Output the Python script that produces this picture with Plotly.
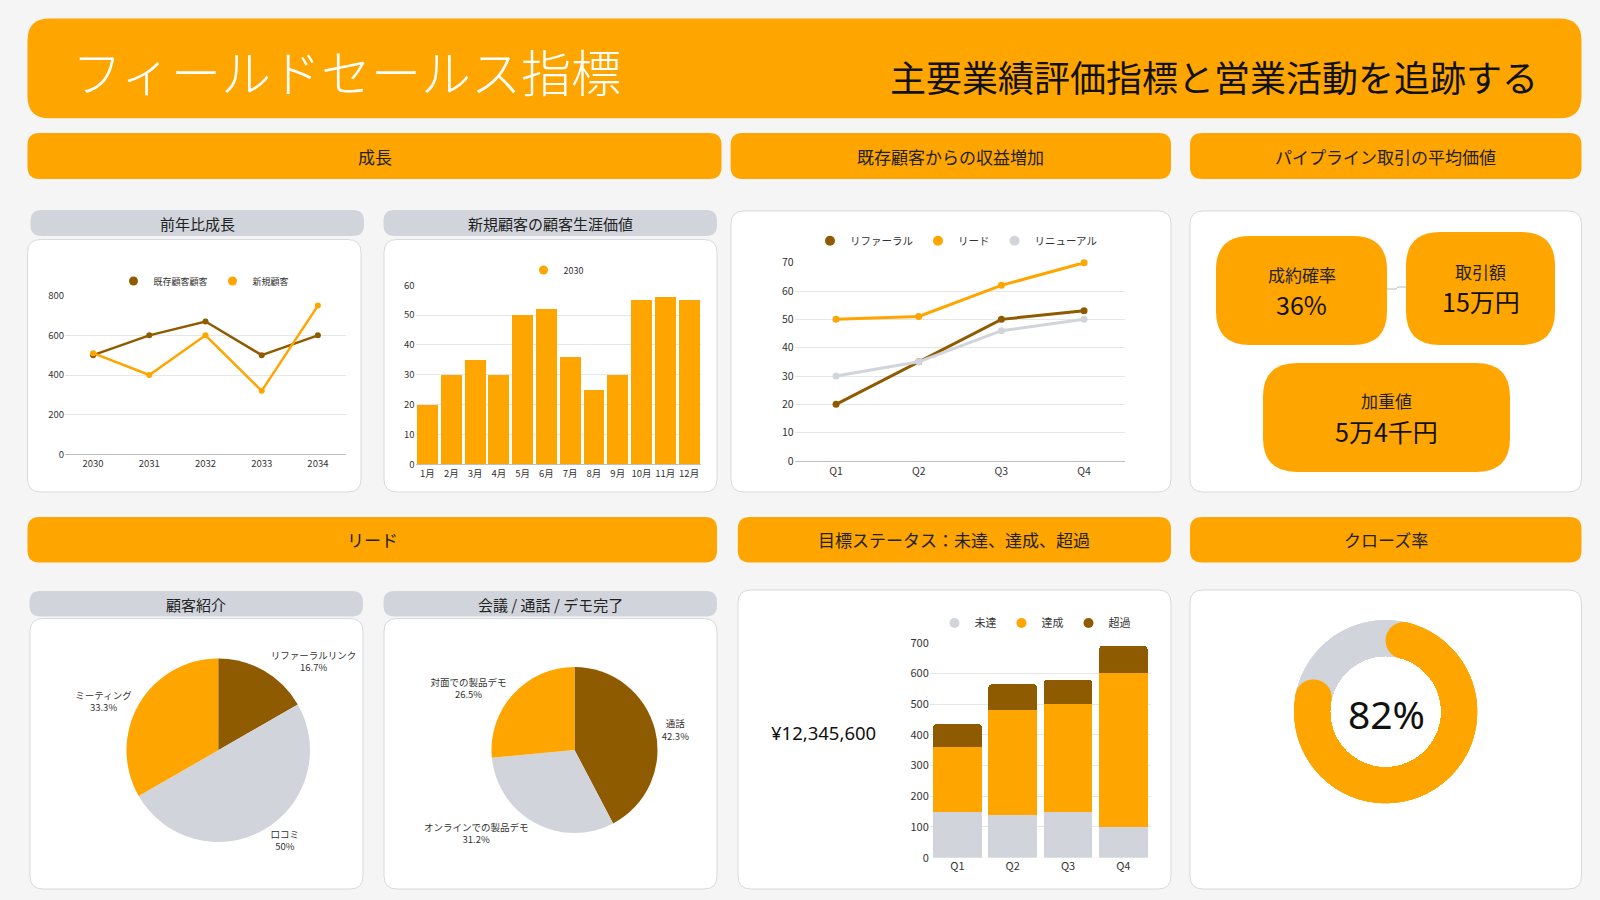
import math
import plotly.graph_objects as go

W, H = 1600, 900

# ---------------- data ----------------
years = ["2030", "2031", "2032", "2033", "2034"]
existing_customers = [500, 600, 670, 500, 600]
new_customers = [510, 400, 600, 320, 750]

months = ["1月", "2月", "3月", "4月", "5月", "6月", "7月", "8月", "9月", "10月", "11月", "12月"]
clv_2030 = [20, 30, 35, 30, 50, 52, 36, 25, 30, 55, 56, 55]

quarters = ["Q1", "Q2", "Q3", "Q4"]
referral = [20, 35, 50, 53]
lead = [50, 51, 62, 70]
renewal = [30, 35, 46, 50]

ref_labels = ["リファーラルリンク", "口コミ", "ミーティング"]
ref_values = [16.7, 50, 33.3]

act_labels = ["通話", "オンラインでの製品デモ", "対面での製品デモ"]
act_values = [42.3, 31.2, 26.5]

target_miss = [150, 140, 150, 100]
target_met = [210, 340, 350, 500]
target_over = [75, 85, 80, 90]

close_rate = 82

kpi_labels = ["成約確率", "取引額", "加重値"]
kpi_values = ["36%", "15万円", "5万4千円"]
revenue_total = "¥12,345,600"

# ---------------- style ----------------
ORANGE = "#FFA500"
BROWN = "#8F5B00"
GRAY = "#D1D5DB"
BG = "#F5F5F5"
BORDER = "#D6D9DF"
GRID = "#E6E6E6"
TXT = "#333333"
FONT = "Noto Sans CJK JP"


def px(x):
    return x / W


def py(y):
    return 1 - y / H


def rrect(x0, y0, x1, y1, r, fill, line=None):
    rx, ry = r / W, r / H
    X0, X1 = px(x0), px(x1)
    T, B = py(y0), py(y1)
    path = (f"M{X0+rx},{T} L{X1-rx},{T} Q{X1},{T} {X1},{T-ry} "
            f"L{X1},{B+ry} Q{X1},{B} {X1-rx},{B} L{X0+rx},{B} Q{X0},{B} {X0},{B+ry} "
            f"L{X0},{T-ry} Q{X0},{T} {X0+rx},{T} Z")
    return dict(type="path", path=path, xref="paper", yref="paper", layer="below",
                fillcolor=fill,
                line=dict(color=line if line else fill, width=1 if line else 0))


def text(x, y, s, size, color="#222222", xanchor="center", family=FONT, weight=None):
    f = dict(size=size, color=color, family=family)
    if weight:
        f["weight"] = weight
    return dict(x=px(x), y=py(y), xref="paper", yref="paper", text=s, showarrow=False,
                xanchor=xanchor, yanchor="middle", font=f)


shapes = []
annotations = []

# header
shapes.append(rrect(27.5, 18.4, 1581.5, 118.3, 22, ORANGE))
annotations.append(text(70, 70, "フィールドセールス指標", 50, "#FFFFFF", "left", weight=300))
annotations.append(text(1540, 76, "主要業績評価指標と営業活動を追跡する", 36, "#111111", "right"))

# section headers
sections = [
    (27.5, 133, 721.5, 179, "成長"),
    (730.6, 133, 1171, 179, "既存顧客からの収益増加"),
    (1190, 133, 1581.5, 179, "パイプライン取引の平均価値"),
    (27.5, 517, 717, 562.5, "リード"),
    (737.8, 517, 1171, 562.5, "目標ステータス：未達、達成、超過"),
    (1190, 517, 1581.5, 562.5, "クローズ率"),
]
for x0, y0, x1, y1, s in sections:
    shapes.append(rrect(x0, y0, x1, y1, 12, ORANGE))
    annotations.append(text((x0 + x1) / 2, (y0 + y1) / 2, s, 17))

# sub headers
subs = [
    (30.5, 210, 364, 236, "前年比成長"),
    (383.5, 210, 717, 236, "新規顧客の顧客生涯価値"),
    (29.5, 591, 363, 616.5, "顧客紹介"),
    (383.5, 591, 717, 616.5, "会議 / 通話 / デモ完了"),
]
for x0, y0, x1, y1, s in subs:
    shapes.append(rrect(x0, y0, x1, y1, 11, GRAY))
    annotations.append(text((x0 + x1) / 2, (y0 + y1) / 2 + 0.5, s, 15))

# white panels
panels = [
    (27.5, 239.5, 361, 492),
    (384, 239.5, 717, 492),
    (731, 211, 1171, 492),
    (1190, 211, 1581.5, 492),
    (30, 618.5, 363, 889),
    (384, 618.5, 717, 889),
    (738, 590, 1171, 889),
    (1190, 590, 1581.5, 889),
]
for x0, y0, x1, y1 in panels:
    shapes.append(rrect(x0, y0, x1, y1, 13, "#FFFFFF", BORDER))

# KPI boxes
kpi_boxes = [(1216, 236, 1387, 345), (1406, 232, 1555, 345), (1263, 363, 1510, 472)]
kpi_text_y = [(274, 304), (271, 301), (400, 431)]
for (x0, y0, x1, y1), (ly, vy), lab, val in zip(kpi_boxes, kpi_text_y, kpi_labels, kpi_values):
    shapes.append(rrect(x0, y0, x1, y1, 34, ORANGE))
    cx = (x0 + x1) / 2
    annotations.append(text(cx, ly, lab, 17))
    annotations.append(text(cx, vy, val, 25, "#111111"))
shapes.append(dict(type="path", xref="paper", yref="paper", layer="below",
                   path=f"M{px(1387)},{py(289)} L{px(1396)},{py(289)} L{px(1398)},{py(287)} L{px(1406)},{py(287)}",
                   line=dict(color="#B8BCC4", width=1)))

# revenue total & close rate text
annotations.append(text(823, 732, revenue_total, 18.5, "#111111", family="Noto Sans"))
annotations.append(text(1386, 713, f"{close_rate}%", 39, "#111111", family="Noto Sans"))

fig = go.Figure()

# ---- chart 1 : YoY growth lines ----
fig.add_trace(go.Scatter(x=years, y=existing_customers, mode="lines+markers", name="既存顧客顧客",
                         line=dict(color=BROWN, width=2.5), marker=dict(size=6, color=BROWN),
                         cliponaxis=False, showlegend=False, xaxis="x", yaxis="y"))
fig.add_trace(go.Scatter(x=years, y=new_customers, mode="lines+markers", name="新規顧客",
                         line=dict(color=ORANGE, width=2.5), marker=dict(size=6, color=ORANGE),
                         cliponaxis=False, showlegend=False, xaxis="x", yaxis="y"))
for nm, c in [("既存顧客顧客", BROWN), ("新規顧客", ORANGE)]:
    fig.add_trace(go.Scatter(x=[None], y=[None], mode="markers", name=nm, marker=dict(size=9, color=c),
                             legend="legend", xaxis="x", yaxis="y"))

# ---- chart 2 : CLV bars ----
fig.add_trace(go.Bar(x=months, y=clv_2030, name="2030", marker=dict(color=ORANGE, line=dict(width=0)),
                     showlegend=False, xaxis="x2", yaxis="y2"))
fig.add_trace(go.Scatter(x=[None], y=[None], mode="markers", name="2030", marker=dict(size=9, color=ORANGE),
                         legend="legend2", xaxis="x2", yaxis="y2"))

# ---- chart 3 : revenue lines ----
for nm, vals, c in [("リファーラル", referral, BROWN), ("リード", lead, ORANGE), ("リニューアル", renewal, GRAY)]:
    fig.add_trace(go.Scatter(x=quarters, y=vals, mode="lines+markers", name=nm,
                             line=dict(color=c, width=3), marker=dict(size=7, color=c),
                             cliponaxis=False, showlegend=False, xaxis="x3", yaxis="y3"))
for nm, c in [("リファーラル", BROWN), ("リード", ORANGE), ("リニューアル", GRAY)]:
    fig.add_trace(go.Scatter(x=[None], y=[None], mode="markers", name=nm, marker=dict(size=10, color=c),
                             legend="legend3", xaxis="x3", yaxis="y3"))

# ---- pies ----
fig.add_trace(go.Pie(labels=ref_labels, values=ref_values, sort=False, direction="clockwise", rotation=0,
                     marker=dict(colors=[BROWN, GRAY, ORANGE], line=dict(width=0)),
                     texttemplate="%{label}<br>%{percent}", textposition="outside",
                     textfont=dict(size=9.5, color=TXT), showlegend=False,
                     domain=dict(x=[px(126.5), px(310)], y=[py(842), py(658.5)])))
fig.add_trace(go.Pie(labels=act_labels, values=act_values, sort=False, direction="clockwise", rotation=0,
                     marker=dict(colors=[BROWN, GRAY, ORANGE], line=dict(width=0)),
                     texttemplate="%{label}<br>%{percent}", textposition="outside",
                     textfont=dict(size=9.5, color=TXT), showlegend=False,
                     domain=dict(x=[px(491.5), px(657.5)], y=[py(833), py(667)])))

# ---- stacked target status ----
for nm, vals, c in [("未達", target_miss, GRAY), ("達成", target_met, ORANGE), ("超過", target_over, BROWN)]:
    fig.add_trace(go.Bar(x=quarters, y=vals, name=nm, marker=dict(color=c, line=dict(width=0), cornerradius=4),
                         showlegend=False, xaxis="x4", yaxis="y4"))
for nm, c in [("未達", GRAY), ("達成", ORANGE), ("超過", BROWN)]:
    fig.add_trace(go.Scatter(x=[None], y=[None], mode="markers", name=nm, marker=dict(size=10, color=c),
                             legend="legend4", xaxis="x4", yaxis="y4"))

# ---- close-rate donut (polar) ----
span = 360 * close_rate / 100
cap = math.degrees(0.2 / 0.8)
fig.add_trace(go.Barpolar(r=[0.4], base=[0.6], theta=[span + (360 - span) / 2], width=[360 - span + 2 * cap],
                          marker=dict(color=GRAY, line=dict(width=0)), showlegend=False, subplot="polar"))
fig.add_trace(go.Barpolar(r=[0.4], base=[0.6], theta=[span / 2], width=[span - 2 * cap],
                          marker=dict(color=ORANGE, line=dict(width=0)), showlegend=False, subplot="polar"))
fig.add_trace(go.Scatterpolar(r=[0.8, 0.8], theta=[cap, span - cap], mode="markers",
                              marker=dict(size=36.8, color=ORANGE, line=dict(width=0)),
                              showlegend=False, subplot="polar"))


def xax(d0, d1, size, n):
    return dict(domain=[px(d0), px(d1)], type="category", range=[-0.5, n - 0.5],
                showgrid=False, showline=True,
                linecolor="#BFBFBF", linewidth=1, ticks="", zeroline=False,
                tickfont=dict(size=size, color=TXT), fixedrange=True)


def yax(d_bottom, d_top, rng, dt, size, anchor):
    return dict(domain=[py(d_bottom), py(d_top)], range=rng, dtick=dt, showgrid=True, gridcolor=GRID,
                gridwidth=1, zeroline=False, showline=False, ticks="", anchor=anchor,
                tickfont=dict(size=size, color=TXT), fixedrange=True)


def leg(cx, cy, size):
    return dict(x=px(cx), y=py(cy), xanchor="center", yanchor="middle", orientation="h",
                traceorder="normal",
                bgcolor="rgba(0,0,0,0)", font=dict(size=size, color=TXT, family=FONT),
                itemwidth=30, tracegroupgap=0)


fig.update_layout(
    width=W, height=H, autosize=False,
    margin=dict(l=0, r=0, t=0, b=0, pad=0, autoexpand=False),
    paper_bgcolor=BG, plot_bgcolor="rgba(0,0,0,0)",
    font=dict(family=FONT, color=TXT),
    barmode="stack", bargap=0.12,
    shapes=shapes, annotations=annotations,
    xaxis=dict(xax(65, 346, 9.5, len(years)), anchor="y"),
    yaxis=yax(454.3, 295.7, [0, 800], 200, 9.5, "x"),
    xaxis2=dict(xax(415.6, 701, 9.5, len(months)), anchor="y2"),
    yaxis2=yax(464.3, 285.3, [0, 60], 10, 9.5, "x2"),
    xaxis3=dict(xax(794.7, 1125.4, 10.5, len(quarters)), anchor="y3"),
    yaxis3=yax(461, 262.7, [0, 70], 10, 10.5, "x3"),
    xaxis4=dict(xax(929.8, 1151, 11, len(quarters)), anchor="y4", showline=False),
    yaxis4=yax(857.7, 642.7, [0, 700], 100, 11, "x4"),
    legend=leg(204, 281, 9),
    legend2=leg(556, 270, 9),
    legend3=leg(956, 240.7, 10.5),
    legend4=leg(1035, 623, 11),
    polar=dict(domain=dict(x=[px(1293.7), px(1477.7)], y=[py(803.7), py(619.7)]),
               bgcolor="rgba(0,0,0,0)",
               radialaxis=dict(range=[0, 1], visible=False, showgrid=False),
               angularaxis=dict(visible=False, showgrid=False, rotation=90, direction="clockwise")),
)

fig.write_html("out.html", config={"displayModeBar": False},
               post_script="document.body.style.margin='0px';document.body.style.overflow='hidden';")
